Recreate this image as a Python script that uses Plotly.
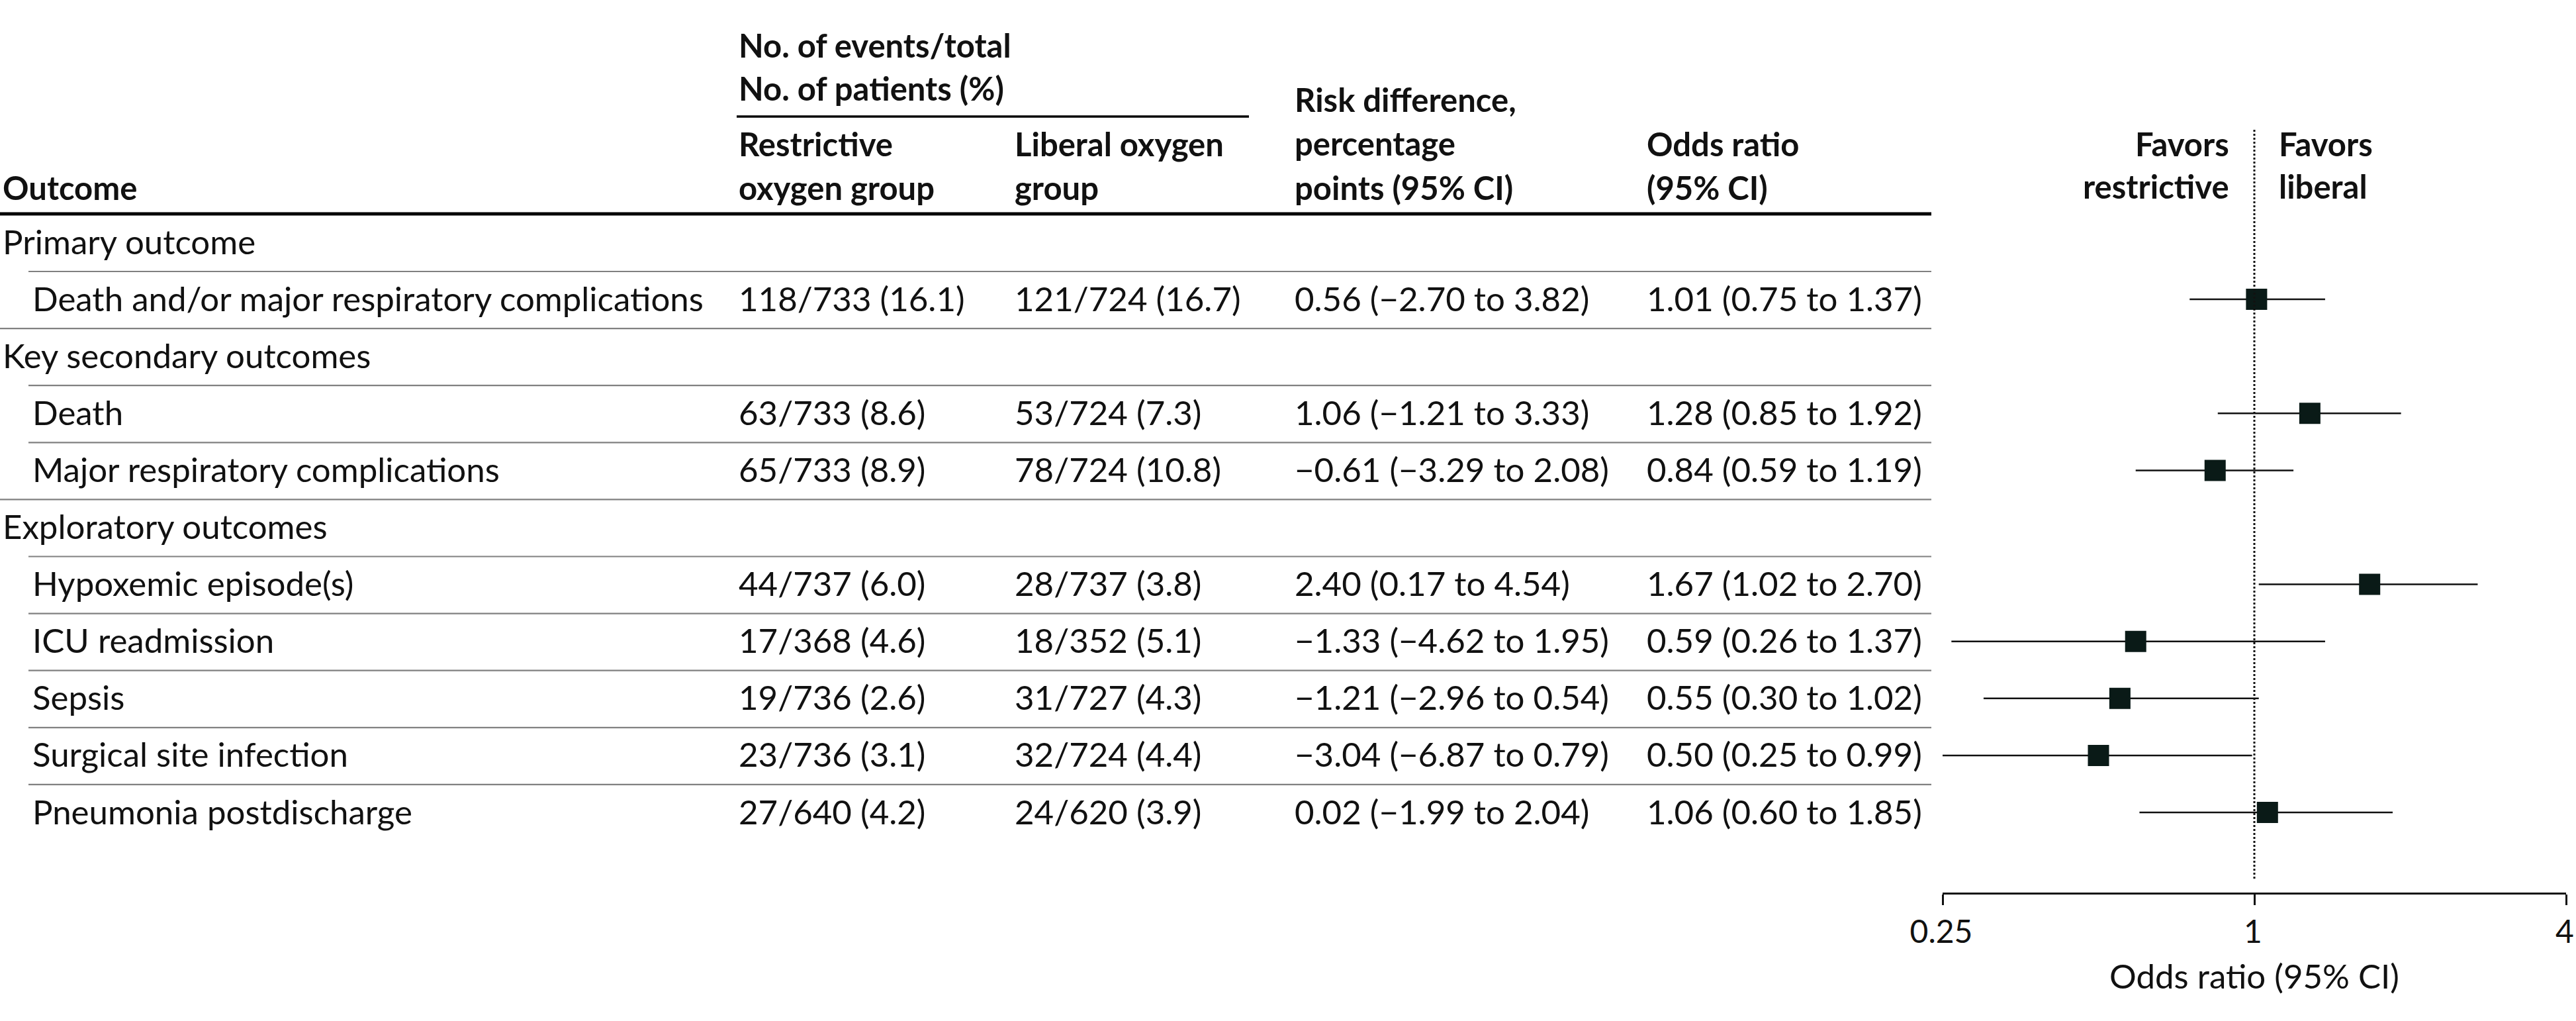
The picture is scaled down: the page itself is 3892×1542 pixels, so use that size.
import plotly.graph_objects as go

# table rows
outcomes = ["Primary outcome", "Death and/or major respiratory complications",
            "Key secondary outcomes", "Death", "Major respiratory complications",
            "Exploratory outcomes", "Hypoxemic episode(s)", "ICU readmission",
            "Sepsis", "Surgical site infection", "Pneumonia postdischarge"]
is_group = [True, False, True, False, False, True, False, False, False, False, False]

restrictive = ["", "118/733 (16.1)", "", "63/733 (8.6)", "65/733 (8.9)", "",
               "44/737 (6.0)", "17/368 (4.6)", "19/736 (2.6)", "23/736 (3.1)", "27/640 (4.2)"]
liberal = ["", "121/724 (16.7)", "", "53/724 (7.3)", "78/724 (10.8)", "",
           "28/737 (3.8)", "18/352 (5.1)", "31/727 (4.3)", "32/724 (4.4)", "24/620 (3.9)"]
risk_diff = ["", "0.56 (−2.70 to 3.82)", "", "1.06 (−1.21 to 3.33)", "−0.61 (−3.29 to 2.08)", "",
             "2.40 (0.17 to 4.54)", "−1.33 (−4.62 to 1.95)", "−1.21 (−2.96 to 0.54)",
             "−3.04 (−6.87 to 0.79)", "0.02 (−1.99 to 2.04)"]

# odds ratios for the non-group rows
odds = [1.01, 1.28, 0.84, 1.67, 0.59, 0.55, 0.50, 1.06]
odds_lo = [0.75, 0.85, 0.59, 1.02, 0.26, 0.30, 0.25, 0.60]
odds_hi = [1.37, 1.92, 1.19, 2.70, 1.37, 1.02, 0.99, 1.85]

xticks = [0.25, 1, 4]
xtick_text = ["0.25", "1", "4"]

W, H = 3892, 1542
FONT = "Lato"
FS = 51       # body text
FS_B = 49     # bold header text
TXT = "#111111"
DY = -2       # nudge so cap height centres on the row

row_y = [366 + 86.1 * i for i in range(len(outcomes))]
data_y = [y for y, g in zip(row_y, is_group) if not g]

fig = go.Figure()
fig.add_trace(go.Scatter(
    x=odds, y=data_y, mode="markers",
    marker=dict(symbol="square", size=32, color="#0a1a17"),
    error_x=dict(type="data", symmetric=False,
                 array=[h - o for h, o in zip(odds_hi, odds)],
                 arrayminus=[o - l for o, l in zip(odds, odds_lo)],
                 width=0, thickness=2.5, color="#111111"),
    showlegend=False, hoverinfo="skip"))

ann = []


def txt(x, y, s, anchor="left", bold=False):
    ann.append(dict(x=x / W, y=y + DY, xref="paper", yref="y", text=("<b>%s</b>" % s) if bold else s,
                    showarrow=False, xanchor=anchor, yanchor="middle", borderpad=0,
                    font=dict(family=FONT, size=FS_B if bold else FS, color=TXT)))


# header
txt(1115, 70, "No. of events/total", bold=True)
txt(1115, 135, "No. of patients (%)", bold=True)
txt(1115, 219, "Restrictive", bold=True)
txt(1115, 285, "oxygen group", bold=True)
txt(1532, 219, "Liberal oxygen", bold=True)
txt(1532, 285, "group", bold=True)
txt(1955, 152, "Risk difference,", bold=True)
txt(1955, 218, "percentage", bold=True)
txt(1955, 285, "points (95% CI)", bold=True)
txt(2487, 219, "Odds ratio", bold=True)
txt(2487, 285, "(95% CI)", bold=True)
txt(3, 285, "Outcome", bold=True)
txt(3369, 219, "Favors", anchor="right", bold=True)
txt(3369, 283, "restrictive", anchor="right", bold=True)
txt(3442, 219, "Favors", bold=True)
txt(3442, 283, "liberal", bold=True)

# body
oi = 0
for i, name in enumerate(outcomes):
    y = row_y[i]
    if is_group[i]:
        txt(3, y, name)
        continue
    txt(48, y, name)
    txt(1115, y, restrictive[i])
    txt(1532, y, liberal[i])
    txt(1955, y, risk_diff[i])
    txt(2487, y, "%.2f (%.2f to %.2f)" % (odds[oi], odds_lo[oi], odds_hi[oi]))
    oi += 1

ann.append(dict(x=3406 / W, y=1475 + DY, xref="paper", yref="y", text="Odds ratio (95% CI)",
                showarrow=False, xanchor="center", yanchor="middle", borderpad=0,
                font=dict(family=FONT, size=FS, color=TXT)))

shapes = []
# underline under the spanning header and the thick header rule
shapes.append(dict(type="line", xref="paper", yref="y", x0=1113 / W, x1=1887 / W, y0=176, y1=176,
                   line=dict(color="#000000", width=3.5)))
shapes.append(dict(type="line", xref="paper", yref="y", x0=0, x1=2918 / W, y0=323, y1=323,
                   line=dict(color="#000000", width=5)))
# row separators: full width before a group header, indented otherwise
for i in range(len(outcomes) - 1):
    yl = row_y[i] + 44
    x0 = 0 if is_group[i + 1] else 43 / W
    shapes.append(dict(type="line", xref="paper", yref="y", x0=x0, x1=2918 / W, y0=yl, y1=yl,
                       line=dict(color="#808080", width=2.2)))
# reference line at OR = 1
shapes.append(dict(type="line", xref="x", yref="y", x0=1, x1=1, y0=196, y1=1330,
                   line=dict(color="#111111", width=3, dash="dot")))

fig.update_layout(
    template="none",
    width=W, height=H, margin=dict(l=0, r=0, t=0, b=0, pad=0, autoexpand=False),
    paper_bgcolor="white", plot_bgcolor="white",
    annotations=ann, shapes=shapes, showlegend=False,
    xaxis=dict(type="log", domain=[2935 / W, 3877 / W], range=[-0.60206, 0.60206],
               anchor="free", position=1 - 1349 / H, automargin=False,
               tickvals=xticks, ticktext=xtick_text, ticks="outside", ticklen=16, tickwidth=2.5,
               tickcolor="#111111", showline=True, linecolor="#111111", linewidth=2.5,
               showgrid=False, zeroline=False, ticklabelshift=-2,
               tickfont=dict(family=FONT, size=48, color=TXT)),
    yaxis=dict(range=[H, 0], domain=[0, 1], visible=False, showgrid=False, zeroline=False,
               automargin=False),
)

# the page body has a default 8px margin; drop it so the figure sits at the corner
fig.write_html("out.html", config={"displayModeBar": False},
               post_script="document.body.style.margin='0px';")
